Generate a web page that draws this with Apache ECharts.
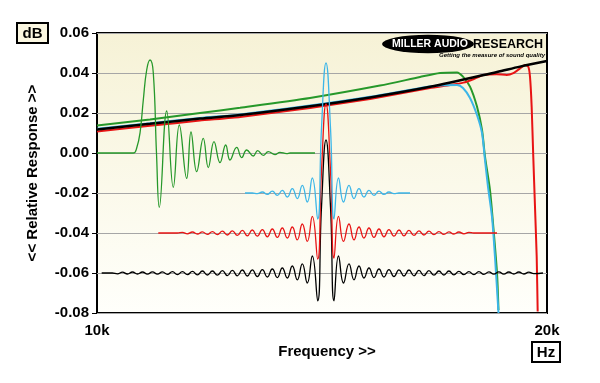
<!DOCTYPE html>
<html><head><meta charset="utf-8">
<script src="https://cdn.jsdelivr.net/npm/echarts@6/dist/echarts.min.js"></script>
<style>html,body{margin:0;padding:0;background:#fff}#c{width:600px;height:383px}</style>
</head><body><div id="c"></div>
<script>
// ---- axis ticks ----
const xTickValues = [10000, 20000];
const xTickLabels = ['10k', '20k'];
const yTickValues = [-0.08, -0.06, -0.04, -0.02, 0, 0.02, 0.04, 0.06];

// ---- frequency responses (Hz, dB) ----
const blackFreq = [[10000,0.0118],[11178,0.0146],[12289,0.0172],[13178,0.0190],[14733,0.0234],[16067,0.0278],[17400,0.0331],[18889,0.0405],[19400,0.0432],[20000,0.0460]];
const redFreq = [[10000,0.0108],[11178,0.0136],[12289,0.0162],[13178,0.0180],[14733,0.0225],[16067,0.0270],[17400,0.0325],[17844,0.0340],[18140,0.0352],[18362,0.0369],[18584,0.0390],[18882,0.0394],[19104,0.0390],[19251,0.0399],[19400,0.0423],[19511,0.0440],[19584,0.0432],[19622,0.0382],[19659,0.0232],[19695,-0.0018],[19733,-0.0268],[19771,-0.0518],[19793,-0.0793]];
const cyanFreq = [[10000,0.0121],[11178,0.0149],[12289,0.0175],[13178,0.0193],[14733,0.0237],[16067,0.0281],[17400,0.0333],[17733,0.0339],[18000,0.0340],[18133,0.0325],[18289,0.0275],[18444,0.0190],[18556,0.0100],[18622,-0.0035],[18689,-0.0170],[18778,-0.0320],[18844,-0.0520],[18922,-0.0800]];
const greenFreq = [[10000,0.0137],[11178,0.0168],[12289,0.0200],[13178,0.0226],[14733,0.0275],[16289,0.0337],[17178,0.0380],[17622,0.0400],[18000,0.0403],[18133,0.0382],[18289,0.0332],[18444,0.0232],[18556,0.0115],[18622,-0.0018],[18733,-0.0185],[18800,-0.0350],[18889,-0.0600],[18922,-0.0785]];

// ---- impulse responses drawn on the same axes ----
const greenImpulse = [[10000,0],[10807,0],[10882,0.0025],[10956,0.01],[11029,0.0265],[11104,0.0415],[11178,0.0465],[11251,0.04],[11322,0.0],[11384,-0.0272],[11549,0.021],[11695,-0.0172],[11829,0.014],[11993,-0.0127],[12089,0.0105],[12215,-0.0093],[12362,0.0073],[12473,-0.0073],[12600,0.0057],[12733,-0.0048],[12860,0.004],[12955,-0.0035],[13104,0.0028],[13215,-0.0023],[13326,0.0015],[13473,-0.0015],[13571,0.0012],[13695,-0.0012],[13806,0.0007],[13955,-0.0008],[14066,0.0003],[14215,-0.0003],[14289,0],[14844,0]];
const cyanImpulse = [[13289,-0.02],[13452,-0.02],[13563,-0.0203],[13674,-0.0195],[13785,-0.0207],[13896,-0.0191],[14007,-0.0212],[14118,-0.0187],[14229,-0.022],[14340,-0.0178],[14451,-0.0228],[14562,-0.0162],[14673,-0.0245],[14784,-0.0125],[14904,-0.033],[14989,0.0125],[15089,0.045],[15189,0.0125],[15267,-0.033],[15367,-0.0125],[15478,-0.0245],[15600,-0.0162],[15711,-0.0228],[15822,-0.0178],[15933,-0.022],[16044,-0.0187],[16155,-0.0212],[16266,-0.0191],[16377,-0.0207],[16488,-0.0195],[16599,-0.0203],[16710,-0.02],[16956,-0.02]];
const redImpulse = [[11362,-0.04],[11787,-0.04],[11898,-0.0397],[12009,-0.0404],[12120,-0.0395],[12231,-0.0405],[12342,-0.0394],[12453,-0.0407],[12564,-0.0393],[12675,-0.0408],[12786,-0.0391],[12897,-0.041],[13008,-0.0389],[13119,-0.0412],[13230,-0.0387],[13341,-0.0414],[13452,-0.0385],[13563,-0.0416],[13674,-0.0383],[13785,-0.0419],[13896,-0.038],[14007,-0.0422],[14118,-0.0375],[14229,-0.0425],[14340,-0.037],[14451,-0.0434],[14562,-0.0355],[14673,-0.0442],[14784,-0.0317],[14904,-0.053],[14989,-0.009],[15089,0.0245],[15189,-0.009],[15267,-0.0525],[15367,-0.0317],[15478,-0.0442],[15600,-0.0355],[15711,-0.0434],[15822,-0.037],[15933,-0.0425],[16044,-0.0375],[16155,-0.0422],[16266,-0.038],[16377,-0.0419],[16488,-0.0383],[16599,-0.0416],[16710,-0.0385],[16821,-0.0414],[16932,-0.0387],[17043,-0.0412],[17154,-0.0389],[17265,-0.041],[17376,-0.0391],[17487,-0.0408],[17598,-0.0393],[17709,-0.0407],[17820,-0.0394],[17931,-0.0405],[18042,-0.0395],[18153,-0.0404],[18264,-0.0397],[18375,-0.04],[18889,-0.04]];
const blackImpulse = [[10104,-0.06],[10340,-0.06],[10455,-0.0604],[10566,-0.0596],[10677,-0.0605],[10788,-0.0595],[10899,-0.0605],[11010,-0.0595],[11121,-0.0606],[11232,-0.0594],[11343,-0.0606],[11454,-0.0594],[11565,-0.0607],[11676,-0.0593],[11787,-0.0608],[11898,-0.0593],[12009,-0.0608],[12120,-0.0592],[12231,-0.0609],[12342,-0.059],[12453,-0.061],[12564,-0.059],[12675,-0.0611],[12786,-0.0588],[12897,-0.0613],[13008,-0.0587],[13119,-0.0614],[13230,-0.0585],[13341,-0.0615],[13452,-0.0584],[13563,-0.0618],[13674,-0.0583],[13785,-0.062],[13896,-0.058],[14007,-0.0623],[14118,-0.0575],[14229,-0.0625],[14340,-0.0565],[14451,-0.0634],[14562,-0.0554],[14673,-0.065],[14784,-0.0515],[14904,-0.0739],[14989,-0.027],[15089,0.0065],[15189,-0.027],[15267,-0.0739],[15367,-0.0515],[15478,-0.065],[15600,-0.0554],[15711,-0.0634],[15822,-0.0565],[15933,-0.0625],[16044,-0.0575],[16155,-0.0623],[16266,-0.058],[16377,-0.062],[16488,-0.0583],[16599,-0.0618],[16710,-0.0584],[16821,-0.0615],[16932,-0.0585],[17043,-0.0614],[17154,-0.0587],[17265,-0.0613],[17376,-0.0588],[17487,-0.0611],[17598,-0.059],[17709,-0.061],[17820,-0.059],[17931,-0.0609],[18042,-0.0592],[18153,-0.0608],[18264,-0.0593],[18375,-0.0608],[18486,-0.0593],[18597,-0.0607],[18708,-0.0594],[18819,-0.0606],[18930,-0.0594],[19041,-0.0606],[19152,-0.0595],[19263,-0.0605],[19374,-0.0595],[19485,-0.0605],[19596,-0.0596],[19707,-0.0603],[19911,-0.06]];

const GREEN = '#26982a', RED = '#e81414', CYAN = '#3cb6e8', BLACK = '#000000';
const FONT = '"Liberation Sans", Arial, sans-serif';

function ln(data, color, width, smooth, z) {
  return { type: 'line', data: data, symbol: 'none', showSymbol: false, smooth: smooth,
    lineStyle: { color: color, width: width }, z: z, silent: true, animation: false };
}

const chart = echarts.init(document.getElementById('c'), null, { renderer: 'canvas' });
chart.setOption({
  animation: false,
  backgroundColor: '#ffffff',
  grid: {
    left: 97, right: 53, top: 33, bottom: 70, show: true,
    borderColor: '#000', borderWidth: 2,
    backgroundColor: { type: 'linear', x: 0, y: 0, x2: 0, y2: 1,
      colorStops: [{ offset: 0, color: '#f6f2d6' }, { offset: 1, color: '#fffffb' }] }
  },
  xAxis: {
    type: 'value', min: 10000, max: 20000, interval: 10000,
    axisLine: { show: false },
    axisTick: { show: true, length: 5, lineStyle: { color: '#000', width: 1 } },
    splitLine: { show: false },
    axisLabel: { margin: 10, color: '#000', fontFamily: FONT, fontWeight: 'bold', fontSize: 15,
      formatter: v => { const i = xTickValues.indexOf(v); return i >= 0 ? xTickLabels[i] : ''; } }
  },
  yAxis: {
    type: 'value', min: -0.08, max: 0.06, interval: 0.02,
    axisLine: { show: false },
    axisTick: { show: true, length: 5, lineStyle: { color: '#000', width: 1 } },
    splitLine: { show: true, lineStyle: { color: '#a6a6a6', width: 1 } },
    axisLabel: { margin: 8, color: '#000', fontFamily: FONT, fontWeight: 'bold', fontSize: 15,
      formatter: v => {
        const t = yTickValues.find(k => Math.abs(k - v) < 1e-9);
        return t === undefined ? '' : t.toFixed(2);
      } }
  },
  series: [
    ln(greenFreq, GREEN, 2, 0.25, 2),
    ln(redFreq, RED, 2, 0.15, 3),
    ln(cyanFreq, CYAN, 2, 0.25, 4),
    ln(blackFreq, BLACK, 2.5, 0.3, 5),
    ln(blackImpulse, BLACK, 1.3, 0.5, 6),
    ln(redImpulse, RED, 1.3, 0.5, 7),
    ln(cyanImpulse, CYAN, 1.3, 0.5, 8),
    ln(greenImpulse, GREEN, 1.3, 0.45, 9)
  ],
  graphic: [
    { type: 'rect', shape: { x: 17, y: 23, width: 31, height: 20 },
      style: { fill: '#fbf7e1', stroke: '#000', lineWidth: 2 }, z: 20 },
    { type: 'text', x: 32.5, y: 33.5, z: 21,
      style: { text: 'dB', font: 'bold 15px ' + FONT, fill: '#000', align: 'center', verticalAlign: 'middle' } },
    { type: 'rect', shape: { x: 532, y: 342, width: 28, height: 20 },
      style: { fill: '#ffffff', stroke: '#000', lineWidth: 2 }, z: 20 },
    { type: 'text', x: 546, y: 352.5, z: 21,
      style: { text: 'Hz', font: 'bold 15px ' + FONT, fill: '#000', align: 'center', verticalAlign: 'middle' } },
    { type: 'text', x: 327, y: 352, z: 21,
      style: { text: 'Frequency >>', font: 'bold 15px ' + FONT, fill: '#000', align: 'center', verticalAlign: 'middle' } },
    { type: 'text', x: 33, y: 173, rotation: Math.PI / 2, z: 21,
      style: { text: '<< Relative Response >>', font: 'bold 15px ' + FONT, fill: '#000', align: 'center', verticalAlign: 'middle' } },
    // logo
    { type: 'circle', shape: { cx: 0, cy: 0, r: 46 }, x: 428, y: 44, scaleY: 0.2,
      style: { fill: '#000' }, z: 30 },
    { type: 'text', x: 430, y: 44.5, z: 31,
      style: { text: 'MILLER AUDIO', font: '900 10.5px ' + FONT, fill: '#fff', align: 'center', verticalAlign: 'middle' } },
    { type: 'text', x: 473, y: 44.5, z: 31,
      style: { text: 'RESEARCH', font: '900 12.5px ' + FONT, fill: '#000', align: 'left', verticalAlign: 'middle' } },
    { type: 'text', x: 545, y: 55, z: 31,
      style: { text: 'Getting the measure of sound quality', font: 'italic bold 6px ' + FONT, fill: '#000', align: 'right', verticalAlign: 'middle' } }
  ]
});
</script></body></html>
